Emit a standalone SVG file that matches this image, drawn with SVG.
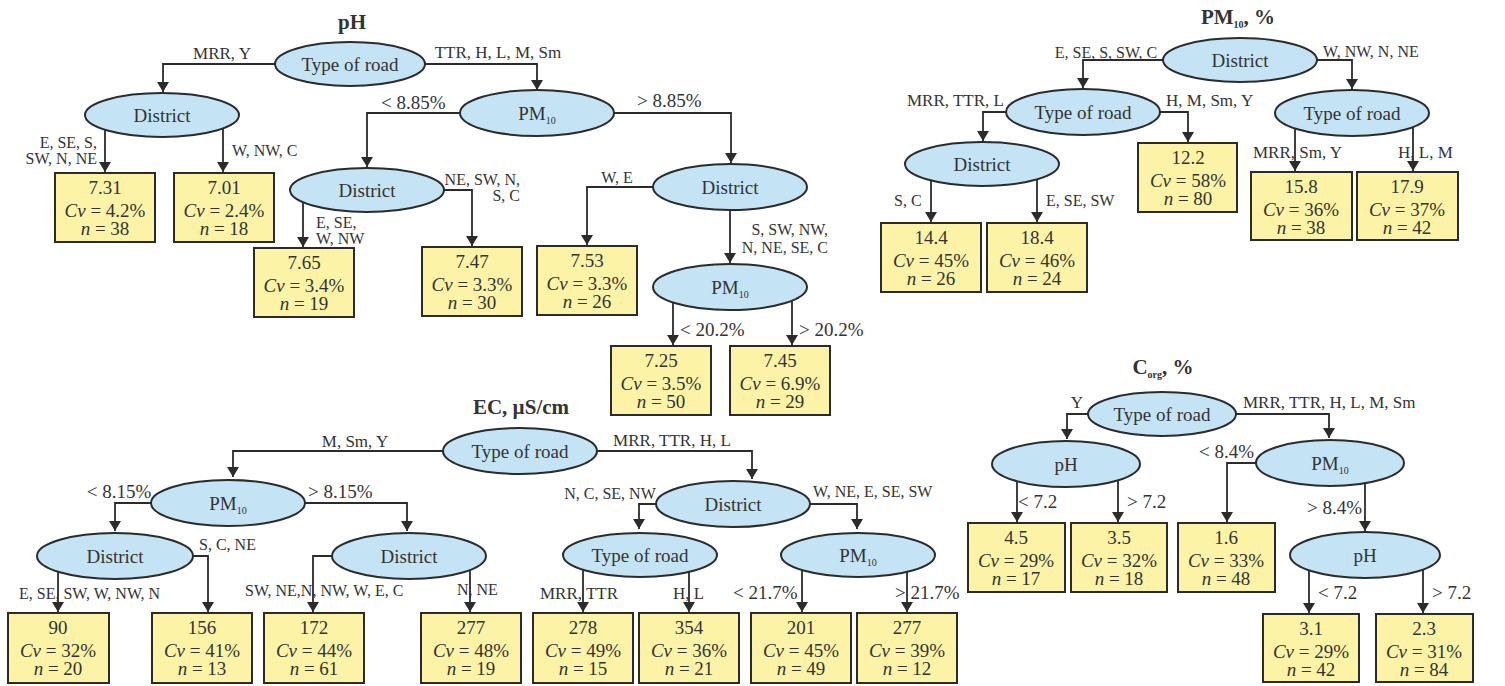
<svg xmlns="http://www.w3.org/2000/svg" width="1505" height="686" viewBox="0 0 1505 686">
<defs>
<marker id="arr" markerUnits="userSpaceOnUse" markerWidth="10" markerHeight="12" viewBox="0 0 10 12" refX="10" refY="6" orient="auto">
<path d="M0,0 L10,6 L0,12 z" fill="#2b2b2b"/>
</marker>
<style>
text{font-family:"Liberation Serif","Times New Roman",serif;fill:#333}
.ell{fill:#c4e4f5;stroke:#2b2b2b;stroke-width:2}
.box{fill:#fcf3a7;stroke:#2b2b2b;stroke-width:2}
.e{fill:none;stroke:#2b2b2b;stroke-width:1.8;marker-end:url(#arr)}
.nt{font-size:19px;text-anchor:middle}
.bt{font-size:19px;text-anchor:middle}
.lb{font-size:16px}
.rd{font-size:17px}
.th{font-size:19px}
.m{text-anchor:middle}
.r{text-anchor:end}
.ti{font-size:21px;font-weight:bold;text-anchor:middle}
.i{font-style:italic}
.sub{font-size:10px}
</style>
</defs>
<rect width="1505" height="686" fill="#ffffff"/>

<!-- Titles -->
<text class="ti" x="352" y="29">pH</text>
<text class="ti" x="1238" y="24">PM<tspan class="sub" dy="4">10</tspan><tspan dy="-4">, %</tspan></text>
<text class="ti" x="521" y="414">EC, µS/cm</text>
<text class="ti" x="1163" y="374">C<tspan class="sub" dy="4">org</tspan><tspan dy="-4">, %</tspan></text>

<!-- Connectors -->
<g id="connectors">
<!-- pH -->
<path class="e" d="M275,64 H163 V92"/>
<path class="e" d="M425,64 H537 V90"/>
<path class="e" d="M105,130 V172"/>
<path class="e" d="M223,128 V172"/>
<path class="e" d="M460,113 H367 V167"/>
<path class="e" d="M614,113 H731 V163"/>
<path class="e" d="M303,202 V247"/>
<path class="e" d="M444,190 H472 V246"/>
<path class="e" d="M653,187 H587 V245"/>
<path class="e" d="M730,210 V263"/>
<path class="e" d="M673,303 V345"/>
<path class="e" d="M792,301 V345"/>
<!-- PM10 -->
<path class="e" d="M1163,60 H1083 V88"/>
<path class="e" d="M1317,60 H1352 V89"/>
<path class="e" d="M1006,112 H983 V141"/>
<path class="e" d="M1160,112 H1188 V142"/>
<path class="e" d="M931,181 V222"/>
<path class="e" d="M1037,180 V222"/>
<path class="e" d="M1295,129 V171"/>
<path class="e" d="M1413,127 V171"/>
<!-- EC -->
<path class="e" d="M443,451 H233 V477"/>
<path class="e" d="M597,451 H752 V479"/>
<path class="e" d="M151,503 H115 V531"/>
<path class="e" d="M305,503 H407 V531"/>
<path class="e" d="M58,572 V612"/>
<path class="e" d="M193,556 H208 V612"/>
<path class="e" d="M332,556 H313 V612"/>
<path class="e" d="M470,570 V612"/>
<path class="e" d="M656,504 H639 V529"/>
<path class="e" d="M810,504 H857 V529"/>
<path class="e" d="M583,570 V612"/>
<path class="e" d="M689,572 V612"/>
<path class="e" d="M802,570 V612"/>
<path class="e" d="M907,572 V612"/>
<!-- Corg -->
<path class="e" d="M1088,414 H1067 V439"/>
<path class="e" d="M1236,414 H1329 V438"/>
<path class="e" d="M1017,481 V522"/>
<path class="e" d="M1118,480 V522"/>
<path class="e" d="M1256,463 H1227 V522"/>
<path class="e" d="M1365,483 V531"/>
<path class="e" d="M1309,570 V613"/>
<path class="e" d="M1423,570 V613"/>

<!-- labels -->
<text class="rd m" x="222" y="59">MRR, Y</text>
<text class="rd m" x="498" y="58">TTR, H, L, M, Sm</text>
<text class="lb r" x="97" y="148">E, SE, S,</text>
<text class="lb r" x="97" y="164">SW, N, NE</text>
<text class="lb" x="232" y="156">W, NW, C</text>
<text class="th" x="381" y="109">&lt; 8.85%</text>
<text class="th" x="637" y="107">&gt; 8.85%</text>
<text class="lb" x="316" y="228">E, SE,</text>
<text class="lb" x="316" y="244">W, NW</text>
<text class="lb r" x="520" y="185">NE, SW, N,</text>
<text class="lb r" x="520" y="201">S, C</text>
<text class="lb m" x="617" y="183">W, E</text>
<text class="lb r" x="828" y="235">S, SW, NW,</text>
<text class="lb r" x="828" y="253">N, NE, SE, C</text>
<text class="th" x="680" y="336">&lt; 20.2%</text>
<text class="th" x="799" y="336">&gt; 20.2%</text>

<text class="lb m" x="1106" y="58">E, SE, S, SW, C</text>
<text class="lb" x="1323" y="57">W, NW, N, NE</text>
<text class="rd" x="907" y="106">MRR, TTR, L</text>
<text class="rd" x="1166" y="106">H, M, Sm, Y</text>
<text class="lb" x="894" y="206">S, C</text>
<text class="lb" x="1046" y="206">E, SE, SW</text>
<text class="rd" x="1253" y="158">MRR, Sm, Y</text>
<text class="rd" x="1398" y="158">H, L, M</text>

<text class="rd m" x="355" y="447">M, Sm, Y</text>
<text class="rd m" x="672" y="446">MRR, TTR, H, L</text>
<text class="th m" x="119" y="498">&lt; 8.15%</text>
<text class="th" x="308" y="498">&gt; 8.15%</text>
<text class="lb" x="19" y="599">E, SE, SW, W, NW, N</text>
<text class="lb" x="199" y="550">S, C, NE</text>
<text class="lb" x="245" y="596">SW, NE,N, NW, W, E, C</text>
<text class="lb" x="457" y="595">N, NE</text>
<text class="lb m" x="610" y="499">N, C, SE, NW</text>
<text class="lb" x="813" y="497">W, NE, E, SE, SW</text>
<text class="rd" x="540" y="599">MRR, TTR</text>
<text class="rd" x="673" y="599">H, L</text>
<text class="th" x="733" y="599">&lt; 21.7%</text>
<text class="th" x="895" y="599">&gt; 21.7%</text>

<text class="rd m" x="1077" y="408">Y</text>
<text class="rd" x="1243" y="408">MRR, TTR, H, L, M, Sm</text>
<text class="th" x="1018" y="508">&lt; 7.2</text>
<text class="th" x="1127" y="508">&gt; 7.2</text>
<text class="th" x="1199" y="458">&lt; 8.4%</text>
<text class="th" x="1307" y="514">&gt; 8.4%</text>
<text class="th" x="1318" y="599">&lt; 7.2</text>
<text class="th" x="1432" y="599">&gt; 7.2</text>
</g>

<!-- pH nodes -->
<g id="ph_root"><ellipse class="ell" cx="350" cy="64" rx="75" ry="22"/><text class="nt" x="350" y="71">Type of road</text></g>
<g id="ph_d1"><ellipse class="ell" cx="162" cy="115" rx="77" ry="22"/><text class="nt" x="162" y="122">District</text></g>
<g id="ph_pm"><ellipse class="ell" cx="537" cy="113" rx="77" ry="23"/><text class="nt" x="537" y="120">PM<tspan class="sub" dy="4">10</tspan></text></g>
<g id="ph_d2"><ellipse class="ell" cx="367" cy="190" rx="77" ry="22"/><text class="nt" x="367" y="197">District</text></g>
<g id="ph_d3"><ellipse class="ell" cx="730" cy="187" rx="77" ry="23"/><text class="nt" x="730" y="194">District</text></g>
<g id="ph_pm2"><ellipse class="ell" cx="730" cy="287" rx="77" ry="23"/><text class="nt" x="730" y="294">PM<tspan class="sub" dy="4">10</tspan></text></g>

<g id="ph_b1"><rect class="box" x="55" y="173" width="100" height="69"/><text class="bt" x="105" y="194">7.31</text><text class="bt" x="105" y="217"><tspan class="i">Cv</tspan> = 4.2%</text><text class="bt" x="105" y="235"><tspan class="i">n</tspan> = 38</text></g>
<g id="ph_b2"><rect class="box" x="174" y="173" width="100" height="69"/><text class="bt" x="224" y="194">7.01</text><text class="bt" x="224" y="217"><tspan class="i">Cv</tspan> = 2.4%</text><text class="bt" x="224" y="235"><tspan class="i">n</tspan> = 18</text></g>
<g id="ph_b3"><rect class="box" x="254" y="248" width="100" height="69"/><text class="bt" x="304" y="269">7.65</text><text class="bt" x="304" y="292"><tspan class="i">Cv</tspan> = 3.4%</text><text class="bt" x="304" y="310"><tspan class="i">n</tspan> = 19</text></g>
<g id="ph_b4"><rect class="box" x="422" y="247" width="100" height="69"/><text class="bt" x="472" y="268">7.47</text><text class="bt" x="472" y="291"><tspan class="i">Cv</tspan> = 3.3%</text><text class="bt" x="472" y="309"><tspan class="i">n</tspan> = 30</text></g>
<g id="ph_b5"><rect class="box" x="537" y="246" width="100" height="69"/><text class="bt" x="587" y="267">7.53</text><text class="bt" x="587" y="290"><tspan class="i">Cv</tspan> = 3.3%</text><text class="bt" x="587" y="308"><tspan class="i">n</tspan> = 26</text></g>
<g id="ph_b6"><rect class="box" x="611" y="346" width="100" height="69"/><text class="bt" x="661" y="367">7.25</text><text class="bt" x="661" y="390"><tspan class="i">Cv</tspan> = 3.5%</text><text class="bt" x="661" y="408"><tspan class="i">n</tspan> = 50</text></g>
<g id="ph_b7"><rect class="box" x="730" y="346" width="100" height="69"/><text class="bt" x="780" y="367">7.45</text><text class="bt" x="780" y="390"><tspan class="i">Cv</tspan> = 6.9%</text><text class="bt" x="780" y="408"><tspan class="i">n</tspan> = 29</text></g>

<!-- PM10 nodes -->
<g id="pm_root"><ellipse class="ell" cx="1240" cy="60" rx="77" ry="22"/><text class="nt" x="1240" y="67">District</text></g>
<g id="pm_t1"><ellipse class="ell" cx="1083" cy="112" rx="77" ry="23"/><text class="nt" x="1083" y="119">Type of road</text></g>
<g id="pm_t2"><ellipse class="ell" cx="1352" cy="113" rx="77" ry="23"/><text class="nt" x="1352" y="120">Type of road</text></g>
<g id="pm_d"><ellipse class="ell" cx="982" cy="164" rx="77" ry="22"/><text class="nt" x="982" y="171">District</text></g>

<g id="pm_b1"><rect class="box" x="1138" y="143" width="99" height="69"/><text class="bt" x="1188" y="164">12.2</text><text class="bt" x="1188" y="187"><tspan class="i">Cv</tspan> = 58%</text><text class="bt" x="1188" y="205"><tspan class="i">n</tspan> = 80</text></g>
<g id="pm_b2"><rect class="box" x="881" y="223" width="100" height="69"/><text class="bt" x="931" y="244">14.4</text><text class="bt" x="931" y="267"><tspan class="i">Cv</tspan> = 45%</text><text class="bt" x="931" y="285"><tspan class="i">n</tspan> = 26</text></g>
<g id="pm_b3"><rect class="box" x="987" y="223" width="100" height="69"/><text class="bt" x="1037" y="244">18.4</text><text class="bt" x="1037" y="267"><tspan class="i">Cv</tspan> = 46%</text><text class="bt" x="1037" y="285"><tspan class="i">n</tspan> = 24</text></g>
<g id="pm_b4"><rect class="box" x="1251" y="172" width="101" height="68"/><text class="bt" x="1301" y="193">15.8</text><text class="bt" x="1301" y="216"><tspan class="i">Cv</tspan> = 36%</text><text class="bt" x="1301" y="234"><tspan class="i">n</tspan> = 38</text></g>
<g id="pm_b5"><rect class="box" x="1357" y="172" width="101" height="68"/><text class="bt" x="1407" y="193">17.9</text><text class="bt" x="1407" y="216"><tspan class="i">Cv</tspan> = 37%</text><text class="bt" x="1407" y="234"><tspan class="i">n</tspan> = 42</text></g>

<!-- EC nodes -->
<g id="ec_root"><ellipse class="ell" cx="520" cy="451" rx="77" ry="23"/><text class="nt" x="520" y="458">Type of road</text></g>
<g id="ec_pm"><ellipse class="ell" cx="228" cy="503" rx="77" ry="23"/><text class="nt" x="228" y="510">PM<tspan class="sub" dy="4">10</tspan></text></g>
<g id="ec_d1"><ellipse class="ell" cx="115" cy="556" rx="78" ry="23"/><text class="nt" x="115" y="563">District</text></g>
<g id="ec_d2"><ellipse class="ell" cx="409" cy="556" rx="77" ry="23"/><text class="nt" x="409" y="563">District</text></g>
<g id="ec_d3"><ellipse class="ell" cx="733" cy="504" rx="77" ry="23"/><text class="nt" x="733" y="511">District</text></g>
<g id="ec_t"><ellipse class="ell" cx="640" cy="555" rx="77" ry="22"/><text class="nt" x="640" y="562">Type of road</text></g>
<g id="ec_pm2"><ellipse class="ell" cx="858" cy="555" rx="77" ry="22"/><text class="nt" x="858" y="562">PM<tspan class="sub" dy="4">10</tspan></text></g>

<g id="ec_b1"><rect class="box" x="8" y="613" width="101" height="70"/><text class="bt" x="58" y="634">90</text><text class="bt" x="58" y="657"><tspan class="i">Cv</tspan> = 32%</text><text class="bt" x="58" y="675"><tspan class="i">n</tspan> = 20</text></g>
<g id="ec_b2"><rect class="box" x="152" y="613" width="100" height="70"/><text class="bt" x="202" y="634">156</text><text class="bt" x="202" y="657"><tspan class="i">Cv</tspan> = 41%</text><text class="bt" x="202" y="675"><tspan class="i">n</tspan> = 13</text></g>
<g id="ec_b3"><rect class="box" x="264" y="613" width="100" height="70"/><text class="bt" x="314" y="634">172</text><text class="bt" x="314" y="657"><tspan class="i">Cv</tspan> = 44%</text><text class="bt" x="314" y="675"><tspan class="i">n</tspan> = 61</text></g>
<g id="ec_b4"><rect class="box" x="421" y="613" width="100" height="70"/><text class="bt" x="471" y="634">277</text><text class="bt" x="471" y="657"><tspan class="i">Cv</tspan> = 48%</text><text class="bt" x="471" y="675"><tspan class="i">n</tspan> = 19</text></g>
<g id="ec_b5"><rect class="box" x="533" y="613" width="100" height="70"/><text class="bt" x="583" y="634">278</text><text class="bt" x="583" y="657"><tspan class="i">Cv</tspan> = 49%</text><text class="bt" x="583" y="675"><tspan class="i">n</tspan> = 15</text></g>
<g id="ec_b6"><rect class="box" x="639" y="613" width="100" height="70"/><text class="bt" x="689" y="634">354</text><text class="bt" x="689" y="657"><tspan class="i">Cv</tspan> = 36%</text><text class="bt" x="689" y="675"><tspan class="i">n</tspan> = 21</text></g>
<g id="ec_b7"><rect class="box" x="751" y="613" width="100" height="70"/><text class="bt" x="801" y="634">201</text><text class="bt" x="801" y="657"><tspan class="i">Cv</tspan> = 45%</text><text class="bt" x="801" y="675"><tspan class="i">n</tspan> = 49</text></g>
<g id="ec_b8"><rect class="box" x="857" y="613" width="100" height="70"/><text class="bt" x="907" y="634">277</text><text class="bt" x="907" y="657"><tspan class="i">Cv</tspan> = 39%</text><text class="bt" x="907" y="675"><tspan class="i">n</tspan> = 12</text></g>

<!-- Corg nodes -->
<g id="co_root"><ellipse class="ell" cx="1162" cy="414" rx="74" ry="22"/><text class="nt" x="1162" y="421">Type of road</text></g>
<g id="co_ph1"><ellipse class="ell" cx="1066" cy="464" rx="74" ry="23"/><text class="nt" x="1066" y="471">pH</text></g>
<g id="co_pm"><ellipse class="ell" cx="1330" cy="463" rx="74" ry="23"/><text class="nt" x="1330" y="470">PM<tspan class="sub" dy="4">10</tspan></text></g>
<g id="co_ph2"><ellipse class="ell" cx="1365" cy="555" rx="75" ry="23"/><text class="nt" x="1365" y="562">pH</text></g>

<g id="co_b1"><rect class="box" x="968" y="523" width="97" height="69"/><text class="bt" x="1016" y="544">4.5</text><text class="bt" x="1016" y="567"><tspan class="i">Cv</tspan> = 29%</text><text class="bt" x="1016" y="585"><tspan class="i">n</tspan> = 17</text></g>
<g id="co_b2"><rect class="box" x="1071" y="523" width="96" height="69"/><text class="bt" x="1119" y="544">3.5</text><text class="bt" x="1119" y="567"><tspan class="i">Cv</tspan> = 32%</text><text class="bt" x="1119" y="585"><tspan class="i">n</tspan> = 18</text></g>
<g id="co_b3"><rect class="box" x="1178" y="523" width="97" height="69"/><text class="bt" x="1226" y="544">1.6</text><text class="bt" x="1226" y="567"><tspan class="i">Cv</tspan> = 33%</text><text class="bt" x="1226" y="585"><tspan class="i">n</tspan> = 48</text></g>
<g id="co_b4"><rect class="box" x="1263" y="614" width="96" height="68"/><text class="bt" x="1311" y="635">3.1</text><text class="bt" x="1311" y="658"><tspan class="i">Cv</tspan> = 29%</text><text class="bt" x="1311" y="676"><tspan class="i">n</tspan> = 42</text></g>
<g id="co_b5"><rect class="box" x="1376" y="614" width="97" height="68"/><text class="bt" x="1424" y="635">2.3</text><text class="bt" x="1424" y="658"><tspan class="i">Cv</tspan> = 31%</text><text class="bt" x="1424" y="676"><tspan class="i">n</tspan> = 84</text></g>
</svg>
